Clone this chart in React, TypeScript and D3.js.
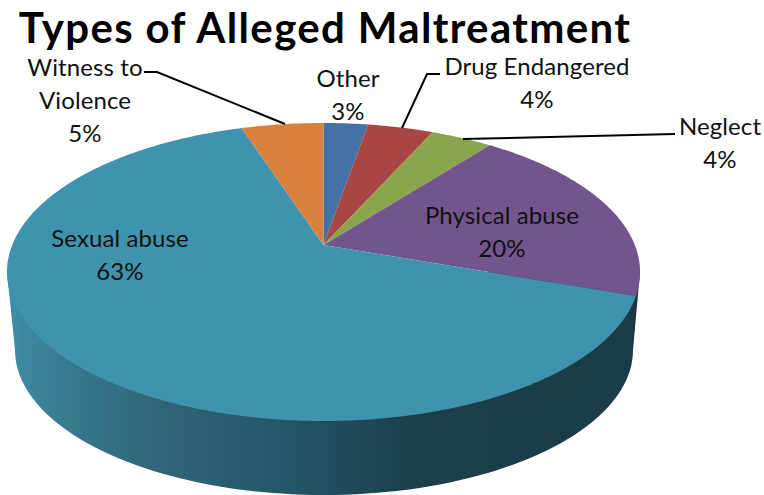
import React, { useEffect, useRef } from "react";
import * as d3 from "d3";

const titleText = "Types of Alleged Maltreatment";
const categories = ["Other", "Drug Endangered", "Neglect", "Physical abuse", "Sexual abuse", "Witness to Violence"];
const shares = [2.7, 4.0, 3.75, 19.95, 64.6, 5.0];
const percentLabels = ["3%", "4%", "4%", "20%", "63%", "5%"];
const colors = ["#4471a6", "#a84644", "#8aa64d", "#72558d", "#3f93ae", "#d9803c"];

const labelLayout = [
  { lines: ["Other"], x: 348, y: 87 },
  { lines: ["Drug Endangered"], x: 537, y: 75 },
  { lines: ["Neglect"], x: 720, y: 135 },
  { lines: ["Physical abuse"], x: 502, y: 224 },
  { lines: ["Sexual abuse"], x: 120, y: 247 },
  { lines: ["Witness to", "Violence"], x: 85, y: 76 },
];
const leaders: [number, number][][] = [
  [],
  [[440, 74], [427, 74], [402, 128]],
  [[675, 134], [463, 139]],
  [],
  [],
  [[144, 72], [157, 72], [285, 124]],
];

const cx = 323.5, cy = 245, R = 311.3, B = 144.1, A = 0.1812;
const project = (ang: number): [number, number] => {
  const u = Math.sin(ang), v = -Math.cos(ang), w = 1 - A * v;
  return [cx + (R * u) / w, cy + (B * v) / w];
};

export default function App() {
  const ref = useRef<SVGSVGElement>(null);
  useEffect(() => {
    const svg = d3.select(ref.current!);
    svg.selectAll("*").remove();
    const grad = svg.append("defs").append("linearGradient").attr("id", "side")
      .attr("gradientUnits", "userSpaceOnUse").attr("x1", 7).attr("x2", 640).attr("y1", 0).attr("y2", 0);
    [[0, "#3f8ea8"], [0.1, "#37788c"], [0.25, "#2f6577"], [0.45, "#235666"], [0.63, "#1c3f4c"], [0.985, "#1a3b47"], [1, "#2a2848"]]
      .forEach(([o, c]) => grad.append("stop").attr("offset", o as number).attr("stop-color", c as string));
    const line = d3.line();
    const bx = 324, by = 350, brx = 309, bry = 145;
    const bottom = d3.range(0, 181, 2).map((d) => {
      const t = (d * Math.PI) / 180;
      return [bx + brx * Math.cos(t), by + bry * Math.sin(t)] as [number, number];
    });
    svg.append("path").attr("d", line([[640, 272], ...bottom, [7, 272]])! + "Z").attr("fill", "url(#side)");

    const arcs = d3.pie<number>().sort(null)(shares);
    svg.selectAll("path.slice").data(arcs).join("path").attr("class", "slice")
      .attr("fill", (_, i) => colors[i])
      .attr("d", (a) => {
        const n = Math.ceil((a.endAngle - a.startAngle) / 0.01);
        const pts = d3.range(n + 1).map((i) => project(a.startAngle + ((a.endAngle - a.startAngle) * i) / n));
        return line([[cx, cy], ...pts])! + "Z";
      });

    svg.selectAll("path.lead").data(leaders.filter((l) => l.length)).join("path").attr("class", "lead")
      .attr("d", (l) => line(l)!).attr("fill", "none").attr("stroke", "#000").attr("stroke-width", 2);

    const font = "Lato, Carlito, sans-serif";
    svg.append("text").attr("x", 325).attr("y", 43).attr("text-anchor", "middle")
      .attr("font-family", font).attr("font-weight", 700).attr("font-size", 42).attr("letter-spacing", 1.35).attr("fill", "#000").text(titleText);
    categories.forEach((_, i) => {
      const t = svg.append("text").attr("text-anchor", "middle").attr("font-family", font).attr("font-size", 24).attr("letter-spacing", 0.1).attr("fill", "#111");
      const l = labelLayout[i];
      [...l.lines, percentLabels[i]].forEach((s, j) => {
        t.append("tspan").attr("x", l.x).attr("y", l.y + j * 33).text(s);
      });
    });
  }, []);
  return <svg ref={ref} width={764} height={495} style={{ position: "absolute", left: 0, top: 0, background: "#fff" }} />;
}
